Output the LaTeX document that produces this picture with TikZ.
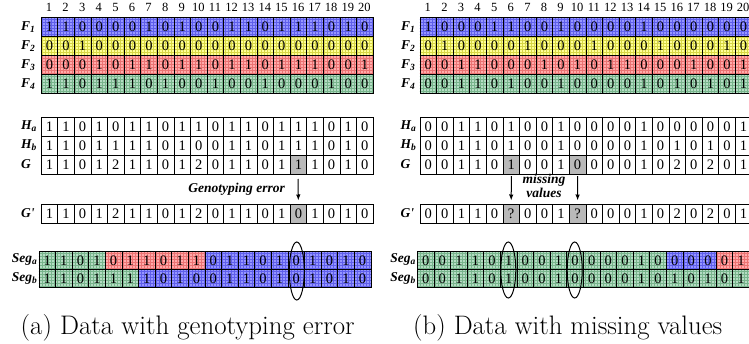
\documentclass[tikz,border=0pt]{standalone}
\usepackage{fontspec}
\usepackage{graphicx}
\usetikzlibrary{shapes.geometric,arrows.meta,patterns}
\newfontfamily\tnr{Liberation Serif}
\definecolor{cB}{RGB}{150,150,255}
\definecolor{cBd}{RGB}{95,95,235}
\definecolor{cY}{RGB}{255,255,150}
\definecolor{cYd}{RGB}{215,215,70}
\definecolor{cR}{RGB}{255,170,170}
\definecolor{cRd}{RGB}{235,115,115}
\definecolor{cG}{RGB}{180,220,195}
\definecolor{cGd}{RGB}{120,180,140}
\definecolor{cK}{RGB}{185,185,185}
\tikzset{
  cell/.style={draw=black, line width=0.8pt, minimum width=16.6pt, minimum height=19pt,
    inner sep=0pt, anchor=north west, font=\tnr\fontsize{14.5}{14.5}\selectfont},
  sW/.style={fill=white},
  sB/.style={preaction={fill=cB}, preaction={pattern=grid, pattern color=cBd}},
  sY/.style={preaction={fill=cY}, preaction={pattern=grid, pattern color=cYd}},
  sR/.style={preaction={fill=cR}, preaction={pattern=grid, pattern color=cRd}},
  sG/.style={preaction={fill=cG}, preaction={pattern=grid, pattern color=cGd}},
  sK/.style={fill=cK},
  collab/.style={font=\tnr\fontsize{12.5}{12.5}\selectfont, inner sep=0pt},
  rowlab/.style={font=\tnr\bfseries\itshape\fontsize{13.5}{13.5}\selectfont, inner sep=0pt, anchor=west},
  seglab/.style={font=\tnr\bfseries\itshape\fontsize{13.5}{13.5}\selectfont, inner sep=0pt, anchor=east},
  note/.style={font=\tnr\bfseries\itshape\fontsize{13.5}{10.5}\selectfont, inner sep=0pt, align=center},
  circ/.style={draw, ellipse, line width=1pt, inner sep=0pt},
  arr/.style={-{Latex[length=6pt,width=4.5pt]}, line width=1pt, shorten >=3pt},
  captxt/.style={font=\fontsize{24.6}{26}\selectfont, inner sep=0pt, anchor=base west},
}
\newcommand\urow[6]{\foreach \v [count=\i] in {#6} {\node[cell,#5,minimum height=#4pt] (#1\i) at ({#2+(\i-1)*16.6},#3) {\v};}}
\newcommand\mrow[5]{\foreach \v/\s [count=\i] in {#5} {\node[cell,\s,minimum height=#4pt] (#1\i) at ({#2+(\i-1)*16.6},#3) {\v};}}
\begin{document}
\begin{tikzpicture}[x=1pt,y=-1pt]
\useasboundingbox (0,0) rectangle (749,343);
% ---------------- panel (a)
\foreach \i in {1,...,20} \node[collab] (acol\i) at ({40.7+(\i-0.5)*16.6},7.5) {\i};
\urow{aFa}{40.7}{17.3}{19}{sB}{1,1,0,0,0,0,1,0,1,0,0,1,1,0,1,1,1,0,1,0}
\urow{aFb}{40.7}{36.3}{19}{sY}{0,0,1,0,0,0,0,0,0,0,0,0,0,0,0,0,0,0,0,0}
\urow{aFc}{40.7}{55.3}{19}{sR}{0,0,0,1,0,1,1,0,1,1,0,1,1,0,1,1,1,0,0,1}
\urow{aFd}{40.7}{74.3}{19}{sG}{1,1,0,1,1,1,0,1,0,0,1,0,0,1,0,0,0,1,0,0}
\node[rowlab] (aLF1) at (21,26.8) {F\textsubscript{1}};
\node[rowlab] (aLF2) at (21,45.8) {F\textsubscript{2}};
\node[rowlab] (aLF3) at (21,64.8) {F\textsubscript{3}};
\node[rowlab] (aLF4) at (21,83.8) {F\textsubscript{4}};
\urow{aHa}{40.7}{117}{19}{sW}{1,1,0,1,0,1,1,0,1,1,0,1,1,0,1,1,1,0,1,0}
\urow{aHb}{40.7}{136}{19}{sW}{1,1,0,1,1,1,1,0,1,0,0,1,1,0,1,1,1,0,1,0}
\mrow{aG}{40.7}{155}{19}{1/sW,1/sW,0/sW,1/sW,2/sW,1/sW,1/sW,0/sW,1/sW,2/sW,0/sW,1/sW,1/sW,0/sW,1/sW,1/sK,1/sW,0/sW,1/sW,0/sW}
\node[rowlab] (aLHa) at (21,126.5) {H\textsubscript{a}};
\node[rowlab] (aLHb) at (21,145.5) {H\textsubscript{b}};
\node[rowlab] (aLG) at (21,164.5) {G};
\mrow{aGp}{40.7}{203.5}{19}{1/sW,1/sW,0/sW,1/sW,2/sW,1/sW,1/sW,0/sW,1/sW,2/sW,0/sW,1/sW,1/sW,0/sW,1/sW,0/sK,1/sW,0/sW,1/sW,0/sW}
\node[rowlab] (aLGp) at (21,213) {G'};
\coordinate (aerr) at (298,179);
\draw[arr] (aerr) -- (aGp16.north);
\node[note, anchor=east] (aerrtxt) at (285,189.5) {Genotyping error};
\mrow{aSa}{38.5}{250.7}{18.3}{1/sG,1/sG,0/sG,1/sG,0/sR,1/sR,1/sR,0/sR,1/sR,1/sR,0/sB,1/sB,1/sB,0/sB,1/sB,0/sB,1/sB,0/sB,1/sB,0/sB}
\mrow{aSb}{38.5}{269}{18.3}{1/sG,1/sG,0/sG,1/sG,1/sG,1/sG,1/sB,0/sB,1/sB,0/sB,0/sB,1/sB,1/sB,0/sB,1/sB,0/sB,1/sB,0/sB,1/sB,0/sB}
\node[seglab] (aLSa) at (37.5,259.8) {Seg\textsubscript{a}};
\node[seglab] (aLSb) at (37.5,278.1) {Seg\textsubscript{b}};
\node[circ, minimum width=15pt, minimum height=58pt] (aell) at (296.8,271) {};
\node[captxt] (acap) at (20.5,334.5) {\resizebox{334pt}{!}{(a) Data with genotyping error}};
% ---------------- panel (b)
\foreach \i in {1,...,20} \node[collab] (bcol\i) at ({419.5+(\i-0.5)*16.6},7.5) {\i};
\urow{bFa}{419.5}{17.3}{19}{sB}{1,0,0,0,1,1,0,0,1,0,0,0,0,1,0,0,0,0,0,0}
\urow{bFb}{419.5}{36.3}{19}{sY}{0,1,0,0,0,0,1,0,0,0,1,0,0,0,1,0,0,0,1,0}
\urow{bFc}{419.5}{55.3}{19}{sR}{0,0,1,1,0,0,0,1,0,1,0,1,1,0,0,0,1,0,0,1}
\urow{bFd}{419.5}{74.3}{19}{sG}{0,0,1,1,0,1,0,0,1,0,0,0,0,1,0,1,0,1,0,1}
\node[rowlab] (bLF1) at (401,26.8) {F\textsubscript{1}};
\node[rowlab] (bLF2) at (401,45.8) {F\textsubscript{2}};
\node[rowlab] (bLF3) at (401,64.8) {F\textsubscript{3}};
\node[rowlab] (bLF4) at (401,83.8) {F\textsubscript{4}};
\urow{bHa}{419.5}{117}{19}{sW}{0,0,1,1,0,1,0,0,1,0,0,0,0,1,0,0,0,0,0,1}
\urow{bHb}{419.5}{136}{19}{sW}{0,0,1,1,0,1,0,0,1,0,0,0,0,1,0,1,0,1,0,1}
\mrow{bG}{419.5}{155}{19}{0/sW,0/sW,1/sW,1/sW,0/sW,1/sK,0/sW,0/sW,1/sW,0/sK,0/sW,0/sW,0/sW,1/sW,0/sW,2/sW,0/sW,2/sW,0/sW,1/sW}
\node[rowlab] (bLHa) at (400.5,126.5) {H\textsubscript{a}};
\node[rowlab] (bLHb) at (400.5,145.5) {H\textsubscript{b}};
\node[rowlab] (bLG) at (400.5,164.5) {G};
\mrow{bGp}{419.5}{203.5}{19}{0/sW,0/sW,1/sW,1/sW,0/sW,?/sK,0/sW,0/sW,1/sW,?/sK,0/sW,0/sW,0/sW,1/sW,0/sW,2/sW,0/sW,2/sW,0/sW,1/sW}
\node[rowlab] (bLGp) at (400.5,213) {G'};
\coordinate (bm1) at (511.3,176);
\coordinate (bm2) at (577.7,176);
\draw[arr] (bm1) -- (bGp6.north);
\draw[arr] (bm2) -- (bGp10.north);
\node[note] (bmtxt) at (544,186) {missing\\values};
\mrow{bSa}{417}{250.7}{18.3}{0/sG,0/sG,1/sG,1/sG,0/sG,1/sG,0/sG,0/sG,1/sG,0/sG,0/sG,0/sG,0/sG,1/sG,0/sG,0/sB,0/sB,0/sB,0/sR,1/sR}
\urow{bSb}{417}{269}{18.3}{sG}{0,0,1,1,0,1,0,0,1,0,0,0,0,1,0,1,0,1,0,1}
\node[seglab] (bLSa) at (416,259.8) {Seg\textsubscript{a}};
\node[seglab] (bLSb) at (416,278.1) {Seg\textsubscript{b}};
\node[circ, minimum width=15pt, minimum height=56pt] (bell1) at (508.3,270) {};
\node[circ, minimum width=15pt, minimum height=56pt] (bell2) at (574.7,270) {};
\node[captxt] (bcap) at (413,334.5) {\resizebox{309pt}{!}{(b) Data with missing values}};
\end{tikzpicture}
\end{document}
